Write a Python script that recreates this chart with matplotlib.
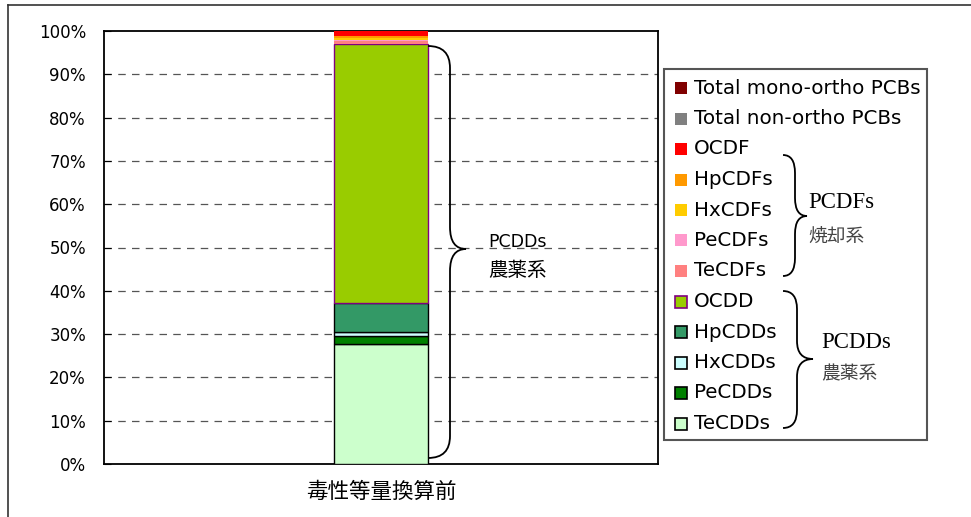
import numpy as np
import matplotlib
matplotlib.use('Agg')
import matplotlib.pyplot as plt
from matplotlib.patches import Rectangle, PathPatch
from matplotlib.path import Path
from matplotlib.lines import Line2D

plt.rcParams['font.family'] = ['DejaVu Sans', 'Noto Sans CJK JP']

# data (percent of total, stacked bottom -> top)
category = '毒性等量換算前'
series = ['TeCDDs', 'PeCDDs', 'HxCDDs', 'HpCDDs', 'OCDD',
          'TeCDFs', 'PeCDFs', 'HxCDFs', 'HpCDFs', 'OCDF',
          'Total non-ortho PCBs', 'Total mono-ortho PCBs']
values = [27.6, 1.9, 0.9, 6.7, 59.8,
          0.8, 0.3, 0.4, 0.5, 1.06,
          0.02, 0.02]
colors = ['#CCFFCC', '#008000', '#CCFFFF', '#339966', '#99CC00',
          '#FF8080', '#FF99CC', '#FFCC00', '#FF9900', '#FF0000',
          '#808080', '#800000']
edges = ['black', 'black', 'black', 'black', '#800080',
         'none', 'none', 'none', 'none', 'none', 'none', 'none']
yticks = np.arange(0, 101, 10)

W, H = 971, 517
fig = plt.figure(figsize=(W / 100, H / 100), dpi=100)

def fx(px):
    return px / W

def fy(py):
    return 1 - py / H

ax = fig.add_axes([fx(104), fy(464), fx(658) - fx(104), fy(31) - fy(464)])

bottom = 0
for v, c, e in zip(values, colors, edges):
    ax.bar([category], [v], bottom=bottom, width=0.17, color=c,
           edgecolor=e, linewidth=1 if e != 'none' else 0, zorder=3)
    bottom += v

ax.set_xlim(-0.5, 0.5)
ax.set_ylim(0, 100)
ax.set_yticks(yticks)
ax.set_yticklabels(['%d%%' % t for t in yticks], fontsize=12)
ax.tick_params(axis='y', direction='in', length=5, pad=13)
ax.tick_params(axis='x', length=0, pad=12)
for lab in ax.get_xticklabels():
    lab.set_family(['Noto Sans CJK JP'])
    lab.set_fontsize(15.5)
for t in yticks[1:-1]:
    ax.axhline(t, color='#555555', lw=0.9, ls=(0, (6, 5)), zorder=1)
for s in ax.spines.values():
    s.set_linewidth(1.3)

# outer chart border (top and left visible)
fig.add_artist(Line2D([fx(8), fx(8)], [fy(5), 0], color='#333333', lw=1.2))
fig.add_artist(Line2D([fx(8), 1], [fy(5), fy(5)], color='#333333', lw=1.2))


def brace(x0, xm, xt, yt, ym, yb, r):
    pts = [(x0, yt), (xm, yt), (xm, yt + r), (xm, ym - r), (xm, ym), (xt, ym),
           (xm, ym), (xm, ym + r), (xm, yb - r), (xm, yb), (x0, yb)]
    codes = [Path.MOVETO, Path.CURVE3, Path.CURVE3, Path.LINETO, Path.CURVE3, Path.CURVE3,
             Path.CURVE3, Path.CURVE3, Path.LINETO, Path.CURVE3, Path.CURVE3]
    pts = [(fx(a), fy(b)) for a, b in pts]
    fig.add_artist(PathPatch(Path(pts, codes), fill=False, lw=1.3, zorder=8,
                             edgecolor='black', transform=fig.transFigure))


cjk = ['Noto Sans CJK JP']

# brace next to the bar
brace(428, 450, 466, 46, 249, 458, 22)
fig.text(fx(488), fy(242), 'PCDDs', fontsize=12.5, va='center')
fig.text(fx(488), fy(270), '農薬系', fontsize=14, va='center', family=cjk)

# legend (top entry = last series)
fig.add_artist(Rectangle((fx(664), fy(440)), fx(927) - fx(664), fy(69) - fy(440),
                         transform=fig.transFigure, facecolor='white',
                         edgecolor='#555555', lw=1.5, zorder=5))
for i, (name, c, e) in enumerate(zip(series[::-1], colors[::-1], edges[::-1])):
    yc = 88 + 30.5 * i
    fig.add_artist(Rectangle((fx(675), fy(yc + 6)), fx(12), fy(0) - fy(12),
                             transform=fig.transFigure, facecolor=c,
                             edgecolor=e, lw=1.2 if e != 'none' else 0, zorder=6))
    fig.text(fx(694), fy(yc), name, fontsize=14.3, va='center', zorder=7)

serif = ['Liberation Serif', 'Noto Sans CJK JP']
brace(783, 795, 807, 155, 216, 276, 18)
fig.text(fx(808), fy(203), 'PCDFs', fontsize=16.5, va='center', family=serif, zorder=7)
fig.text(fx(808), fy(237), '焼却系', fontsize=13.5, va='center', family=serif,
         color='#444444', zorder=7)
brace(783, 797, 813, 291, 359, 428, 18)
fig.text(fx(821), fy(342), 'PCDDs', fontsize=16.5, va='center', family=serif, zorder=7)
fig.text(fx(821), fy(375), '農薬系', fontsize=13.5, va='center', family=serif,
         color='#444444', zorder=7)

fig.savefig('out.png', dpi=100)
